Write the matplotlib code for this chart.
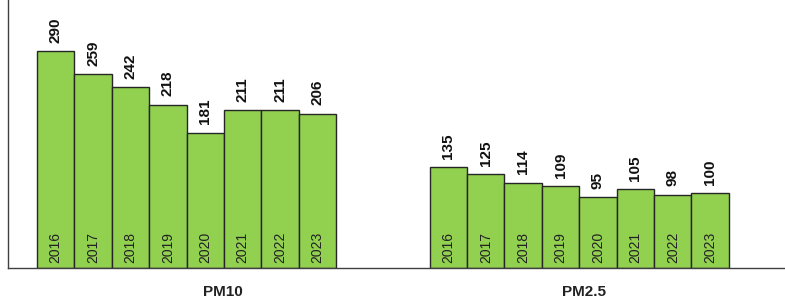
import matplotlib
matplotlib.use("Agg")
import matplotlib.pyplot as plt

years = ["2016", "2017", "2018", "2019", "2020", "2021", "2022", "2023"]
groups = ["PM10", "PM2.5"]
pm10 = [290, 259, 242, 218, 181, 211, 211, 206]
pm25 = [135, 125, 114, 109, 95, 105, 98, 100]

plt.rcParams['font.family'] = ['Liberation Sans', 'DejaVu Sans']

fig = plt.figure(figsize=(7.85, 2.98), dpi=100)
ax = fig.add_axes([8/785, 30/298, 777/785, 268/298])

green = "#92D050"
offsets = [0, 10.5]
label_pos = [0.2767, 0.741]
for g, (name, vals) in enumerate(zip(groups, [pm10, pm25])):
    xs = [offsets[g] + i for i in range(len(vals))]
    ax.bar(xs, vals, width=1.0, color=green, edgecolor="#262626", linewidth=1.0)
    for x, v, y in zip(xs, vals, years):
        ax.annotate(str(v), (x, v), xytext=(0, 6), textcoords="offset points",
                    rotation=90, ha="center", va="bottom", fontsize=11,
                    fontweight="bold", color="#111111")
        ax.annotate(y, (x, 0), xytext=(0, 3.5), textcoords="offset points",
                    rotation=90, ha="center", va="bottom", fontsize=10,
                    color="#222222")
    ax.text(label_pos[g], -0.103, name, transform=ax.transAxes,
            ha="center", va="baseline", fontsize=11, fontweight="bold", color="#222222")

ax.set_xlim(-1.275, 19.5)
ax.set_ylim(0, 358)
ax.set_xticks([])
ax.set_yticks([])
for s in ["top", "right"]:
    ax.spines[s].set_visible(False)
for s in ["left", "bottom"]:
    ax.spines[s].set_color("#404040")
    ax.spines[s].set_linewidth(1.0)

fig.savefig("out.png", dpi=100)
